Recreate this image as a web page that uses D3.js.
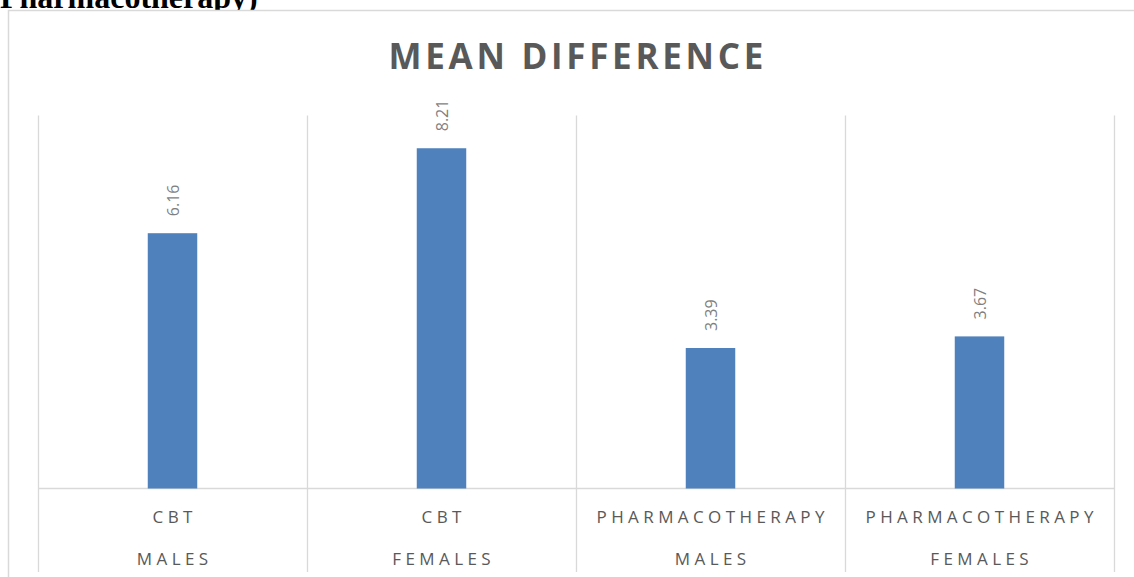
<!DOCTYPE html>
<html><head><meta charset="utf-8">
<script src="https://cdn.jsdelivr.net/npm/d3@7"></script>
<style>html,body{margin:0;padding:0;background:#fff;overflow:hidden}</style>
</head><body>
<svg id="c" width="1134" height="577"></svg>
<script>
const groups = ["CBT", "CBT", "PHARMACOTHERAPY", "PHARMACOTHERAPY"];
const subgroups = ["MALES", "FEMALES", "MALES", "FEMALES"];
const values = [6.16, 8.21, 3.39, 3.67];
const title = "MEAN DIFFERENCE";
const yMax = 9;

(function () {
const svg = d3.select("#c");
const grey = "#d9d9d9";

svg.append("text").attr("x", 0).attr("y", 8)
  .attr("font-family", "Liberation Serif, serif").attr("font-weight", "bold")
  .attr("font-size", 32).attr("fill", "#000").text("Pharmacotherapy)");

svg.append("rect").attr("x", 8.5).attr("y", 10.5).attr("width", 1140).attr("height", 580)
  .attr("fill", "#fff").attr("stroke", grey).attr("stroke-width", 1.5);

const pLeft = 38, pRight = 1114, pTop = 115.5, pBase = 488.5;
const keys = values.map((d, i) => i);
const x = d3.scaleBand().domain(keys).range([pLeft, pRight]).paddingInner(0).paddingOuter(0);
const y = d3.scaleLinear().domain([0, yMax]).range([pBase, pTop]);

const bounds = keys.map(k => x(k)).concat([pRight]);
svg.selectAll("line.g").data(bounds).join("line")
  .attr("x1", d => d + 0.5).attr("x2", d => d + 0.5)
  .attr("y1", pTop).attr("y2", 572)
  .attr("stroke", grey).attr("stroke-width", 1.3);

svg.append("line").attr("x1", pLeft).attr("x2", pRight).attr("y1", pBase).attr("y2", pBase)
  .attr("stroke", grey).attr("stroke-width", 1.5);

const bw = x.bandwidth() * 0.184;
svg.selectAll("rect.b").data(values).join("rect")
  .attr("x", (d, i) => x(i) + x.bandwidth() / 2 - bw / 2)
  .attr("width", bw)
  .attr("y", d => y(d))
  .attr("height", d => pBase - y(d))
  .attr("fill", "#4f81bd");

svg.selectAll("text.v").data(values).join("text")
  .attr("transform", (d, i) => `translate(${x(i) + x.bandwidth() / 2 + 6},${y(d) - 17}) rotate(-90)`)
  .attr("font-family", "Open Sans, sans-serif").attr("font-size", 16)
  .attr("fill", "#7f7f7f").text(d => d.toFixed(2));

const labFont = "Open Sans, sans-serif";
const ls = 4.4;
svg.selectAll("text.c1").data(groups).join("text")
  .attr("x", (d, i) => x(i) + x.bandwidth() / 2 + ls / 2).attr("y", 523)
  .attr("text-anchor", "middle").attr("font-family", labFont).attr("font-size", 17)
  .attr("letter-spacing", ls).attr("fill", "#595959").text(d => d);
svg.selectAll("text.c2").data(subgroups).join("text")
  .attr("x", (d, i) => x(i) + x.bandwidth() / 2 + ls / 2).attr("y", 565)
  .attr("text-anchor", "middle").attr("font-family", labFont).attr("font-size", 17)
  .attr("letter-spacing", ls).attr("fill", "#595959").text(d => d);

svg.append("text").attr("x", 576 + 1.8).attr("y", 68.5)
  .attr("text-anchor", "middle").attr("font-family", "Open Sans, sans-serif")
  .attr("font-weight", "bold").attr("font-size", 35).attr("letter-spacing", 3.7)
  .attr("fill", "#595959").text(title);
})();
</script>
</body></html>
